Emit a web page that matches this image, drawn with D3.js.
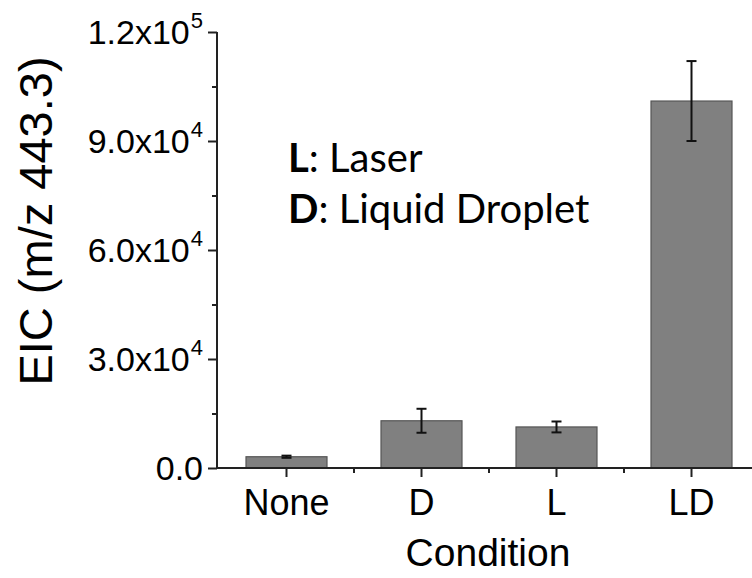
<!DOCTYPE html>
<html>
<head>
<meta charset="utf-8">
<script src="https://cdn.jsdelivr.net/npm/d3@7"></script>
<style>
  body { margin: 0; background: #fff; }
  svg text { fill: #000; }
</style>
</head>
<body>
<svg id="chart" width="752" height="578"></svg>
<script>
const conditions = ["None", "D", "L", "LD"];
const values = [3100, 13000, 11300, 101000];
const errors = [300, 3300, 1500, 11000];
const yTicks = [0, 30000, 60000, 90000, 120000];
const yTickMant = ["0.0", "3.0x10", "6.0x10", "9.0x10", "1.2x10"];
const yTickExp = ["", "4", "4", "4", "5"];
const legend = [["L", ": Laser"], ["D", ": Liquid Droplet"]];

const svg = d3.select("#chart");
const axisFont = "'Liberation Sans', Arial, sans-serif";

const x = d3.scaleBand()
    .domain(conditions)
    .range([219, 759])
    .paddingInner(0.4)
    .paddingOuter(0.2);

const y = d3.scaleLinear()
    .domain([0, 120000])
    .range([468, 32]);

// bars
svg.append("g").selectAll("rect")
    .data(conditions)
    .join("rect")
    .attr("x", d => x(d))
    .attr("y", (d, i) => y(values[i]))
    .attr("width", x.bandwidth())
    .attr("height", (d, i) => y(0) - y(values[i]))
    .attr("fill", "#808080")
    .attr("stroke", "#555")
    .attr("stroke-width", 1.2);

// error bars
const eg = svg.append("g").attr("stroke", "#111").attr("stroke-width", 2);
conditions.forEach((c, i) => {
    const cx = x(c) + x.bandwidth() / 2;
    const top = y(values[i] + errors[i]);
    const bot = y(values[i] - errors[i]);
    eg.append("line").attr("x1", cx).attr("x2", cx).attr("y1", top).attr("y2", bot);
    eg.append("line").attr("x1", cx - 5).attr("x2", cx + 5).attr("y1", top).attr("y2", top);
    eg.append("line").attr("x1", cx - 5).attr("x2", cx + 5).attr("y1", bot).attr("y2", bot);
});

// y axis
const yAxis = svg.append("g")
    .attr("transform", "translate(217,0)")
    .call(d3.axisLeft(y).tickValues(yTicks).tickSize(9).tickFormat(""));
yAxis.select(".domain").attr("d", `M0,${y(120000)}V${y(0)}`);
const yMinor = svg.append("g")
    .attr("transform", "translate(217,0)")
    .call(d3.axisLeft(y).tickValues([15000, 45000, 75000, 105000]).tickSize(5).tickFormat(""));
yMinor.select(".domain").remove();
svg.selectAll(".tick line, .domain").attr("stroke", "#222").attr("stroke-width", 2);

const yl = svg.append("g").selectAll("text")
    .data(yTicks)
    .join("text")
    .attr("x", 203)
    .attr("y", d => y(d) + 12)
    .attr("text-anchor", "end")
    .attr("font-family", axisFont)
    .attr("font-size", 34);
yl.append("tspan").text((d, i) => yTickMant[i]);
yl.append("tspan")
    .attr("dx", 1)
    .attr("dy", -16)
    .attr("font-size", 22)
    .text((d, i) => yTickExp[i]);

// x axis
const xAxis = svg.append("g")
    .attr("transform", "translate(0,468)")
    .call(d3.axisBottom(x).tickSize(9).tickSizeOuter(0));
xAxis.select(".domain").attr("d", "M217,0H752");
xAxis.selectAll(".tick line").attr("stroke", "#222").attr("stroke-width", 2);
xAxis.select(".domain").attr("stroke", "#222").attr("stroke-width", 2);
xAxis.selectAll(".tick text")
    .attr("font-family", axisFont)
    .attr("font-size", 36)
    .attr("fill", "#000")
    .attr("dy", "0.95em")
    .attr("y", 13);

svg.append("g")
    .attr("transform", "translate(0,468)")
    .selectAll("line")
    .data(conditions.slice(0, -1))
    .join("line")
    .attr("x1", d => x(d) + x.bandwidth() / 2 + x.step() / 2)
    .attr("x2", d => x(d) + x.bandwidth() / 2 + x.step() / 2)
    .attr("y1", 0)
    .attr("y2", 5)
    .attr("stroke", "#222")
    .attr("stroke-width", 2);

// axis titles
svg.append("text")
    .attr("transform", "translate(52,221) rotate(-90)")
    .attr("text-anchor", "middle")
    .attr("font-family", axisFont)
    .attr("font-size", 47)
    .text("EIC (m/z 443.3)");

svg.append("text")
    .attr("x", 488)
    .attr("y", 566)
    .attr("text-anchor", "middle")
    .attr("font-family", axisFont)
    .attr("font-size", 39)
    .text("Condition");

// legend text
const lg = svg.append("g").selectAll("text")
    .data(legend)
    .join("text")
    .attr("x", 288)
    .attr("y", (d, i) => 172 + i * 51)
    .attr("font-family", "Lato, 'Open Sans', sans-serif")
    .attr("font-size", 40);
lg.append("tspan").attr("font-weight", "bold").text(d => d[0]);
lg.append("tspan").text(d => d[1]);
</script>
</body>
</html>
